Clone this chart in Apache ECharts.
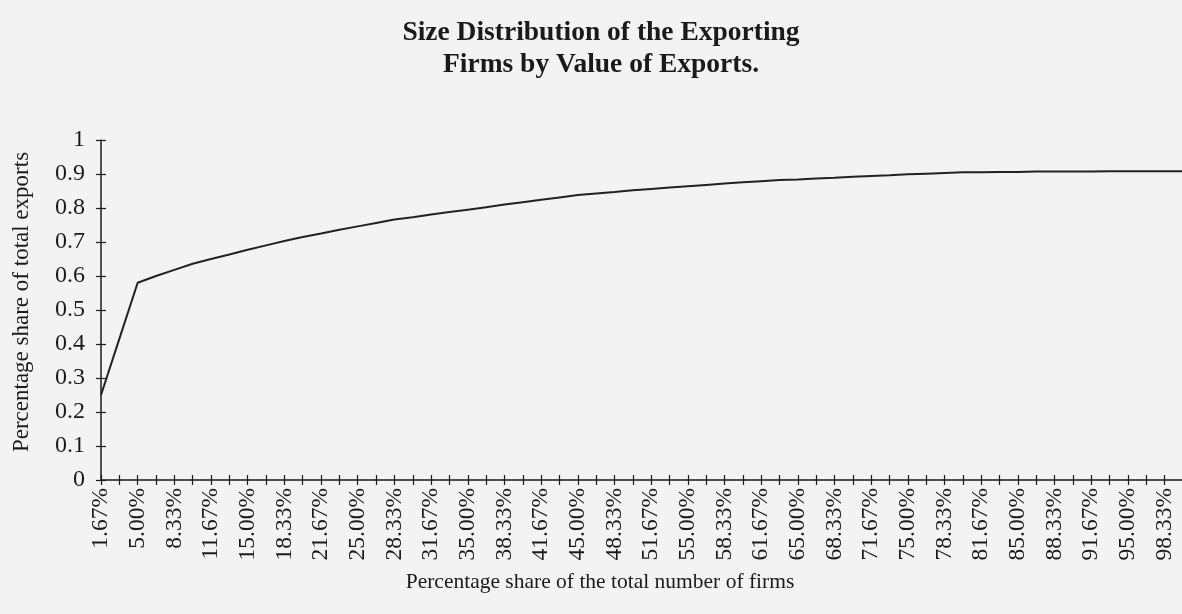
<!DOCTYPE html>
<html>
<head>
<meta charset="utf-8">
<script src="https://cdn.jsdelivr.net/npm/echarts@6/dist/echarts.min.js"></script>
<style>
  html, body { margin: 0; padding: 0; background: #f3f3f3; }
  #chart { width: 1182px; height: 614px; }
</style>
</head>
<body>
<div id="chart"></div>
<script>
// Cumulative share of firms (x) against cumulative share of total exports (y)
var firmShares = [
  '1.67%', '3.33%', '5.00%', '6.67%', '8.33%', '10.00%', '11.67%', '13.33%', '15.00%', '16.67%',
  '18.33%', '20.00%', '21.67%', '23.33%', '25.00%', '26.67%', '28.33%', '30.00%', '31.67%', '33.33%',
  '35.00%', '36.67%', '38.33%', '40.00%', '41.67%', '43.33%', '45.00%', '46.67%', '48.33%', '50.00%',
  '51.67%', '53.33%', '55.00%', '56.67%', '58.33%', '60.00%', '61.67%', '63.33%', '65.00%', '66.67%',
  '68.33%', '70.00%', '71.67%', '73.33%', '75.00%', '76.67%', '78.33%', '80.00%', '81.67%', '83.33%',
  '85.00%', '86.67%', '88.33%', '90.00%', '91.67%', '93.33%', '95.00%', '96.67%', '98.33%', '100.00%'
];

var exportShares = [
  0.250, 0.415, 0.580, 0.600, 0.618, 0.636, 0.650, 0.663, 0.677, 0.690,
  0.703, 0.715, 0.725, 0.736, 0.746, 0.756, 0.766, 0.773, 0.781, 0.788,
  0.795, 0.802, 0.810, 0.817, 0.824, 0.831, 0.838, 0.843, 0.847, 0.852,
  0.856, 0.860, 0.864, 0.868, 0.872, 0.876, 0.879, 0.882, 0.884, 0.887,
  0.889, 0.892, 0.894, 0.896, 0.899, 0.901, 0.903, 0.905, 0.905, 0.906,
  0.906, 0.907, 0.907, 0.907, 0.907, 0.908, 0.908, 0.908, 0.908, 0.908
];

var titleLines = ['Size Distribution of the Exporting', 'Firms by Value of Exports.'];
var xAxisName = 'Percentage share of the total number of firms';
var yAxisName = 'Percentage share of total exports';

var serif = '"Liberation Serif", "DejaVu Serif", serif';
var ink = '#1a1a1a';

var chart = echarts.init(document.getElementById('chart'), null, { renderer: 'canvas' });

var gridBox = {
  left: 101, right: -1, top: 140, bottom: 134,
  containLabel: false,
  outerBoundsMode: 'none'
};

chart.setOption({
  backgroundColor: '#f3f3f3',
  animation: false,
  title: {
    text: titleLines.join('\n'),
    left: 596,
    top: 12,
    textAlign: 'center',
    textStyle: {
      fontFamily: serif,
      fontWeight: 'bold',
      fontSize: 27.5,
      lineHeight: 32,
      color: ink,
      align: 'center'
    }
  },
  grid: gridBox,
  xAxis: [
    {
      type: 'category',
      data: firmShares,
      boundaryGap: false,
      name: xAxisName,
      nameLocation: 'middle',
      nameGap: 91,
      nameTextStyle: {
        fontFamily: serif, fontSize: 21.5, color: ink,
        padding: [0, 84, 0, 0]
      },
      axisLine: { lineStyle: { color: ink, width: 1.5 } },
      axisTick: { show: true, interval: 0, length: 5, lineStyle: { color: ink, width: 1.2 } },
      axisLabel: {
        interval: 1,
        rotate: 90,
        margin: 8,
        fontFamily: serif,
        fontSize: 23.5,
        color: ink
      },
      splitLine: { show: false }
    },
    {
      // inner half of the crossing tick marks
      type: 'category',
      data: firmShares,
      boundaryGap: false,
      position: 'bottom',
      axisLine: { show: false },
      axisTick: { show: true, inside: true, interval: 0, length: 5, lineStyle: { color: ink, width: 1.2 } },
      axisLabel: { show: false },
      splitLine: { show: false }
    }
  ],
  yAxis: [
    {
      type: 'value',
      min: 0,
      max: 1,
      interval: 0.1,
      name: yAxisName,
      nameLocation: 'middle',
      nameGap: 68,
      nameTextStyle: {
        fontFamily: serif, fontSize: 23, color: ink,
        padding: [0, 0, 0, 16]
      },
      axisLine: { show: true, lineStyle: { color: ink, width: 1.5 } },
      axisTick: { show: true, length: 5, lineStyle: { color: ink, width: 1.2 } },
      axisLabel: {
        margin: 16,
        fontFamily: serif,
        fontSize: 24,
        color: ink
      },
      splitLine: { show: false }
    },
    {
      // inner half of the crossing tick marks
      type: 'value',
      min: 0,
      max: 1,
      interval: 0.1,
      position: 'left',
      axisLine: { show: false },
      axisTick: { show: true, inside: true, length: 5, lineStyle: { color: ink, width: 1.2 } },
      axisLabel: { show: false },
      splitLine: { show: false }
    }
  ],
  series: [
    {
      type: 'line',
      data: exportShares,
      xAxisIndex: 0,
      yAxisIndex: 0,
      showSymbol: false,
      smooth: false,
      lineStyle: { color: '#222', width: 2 }
    }
  ]
});
</script>
</body>
</html>
